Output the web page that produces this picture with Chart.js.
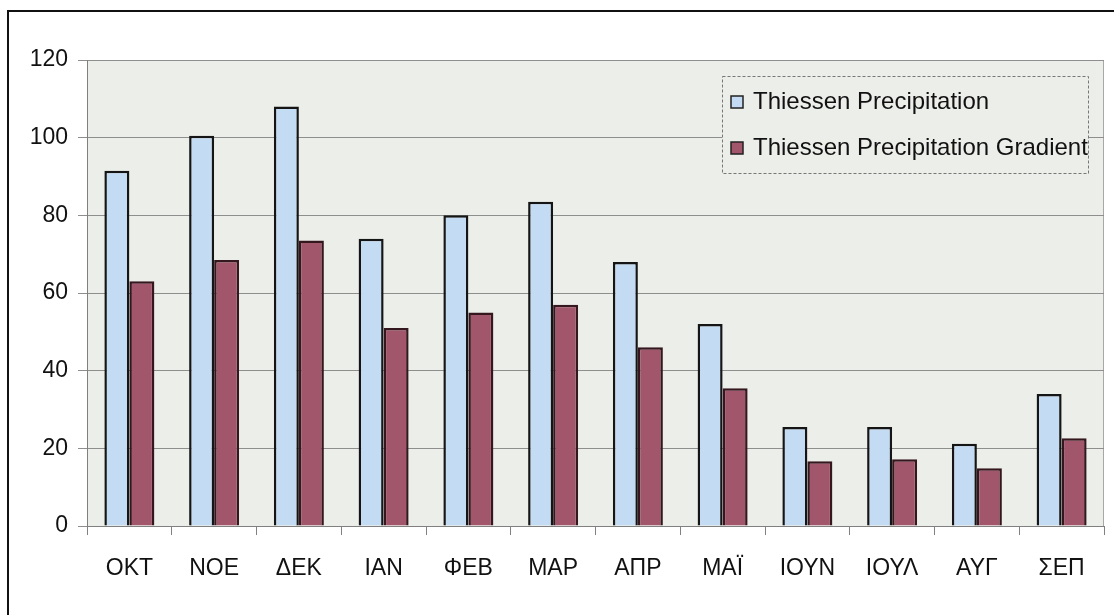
<!DOCTYPE html>
<html lang="el">
<head>
    <meta charset="UTF-8">
    <title>Thiessen Precipitation</title>
    <script src="https://cdn.jsdelivr.net/npm/chart.js"></script>
    <style>
        html, body {
            margin: 0;
            padding: 0;
            background: #ffffff;
            overflow: hidden;
        }
        .frame {
            position: absolute;
            left: 7px;
            top: 10px;
            width: 1200px;
            height: 700px;
            border-left: 2px solid #111;
            border-top: 2px solid #111;
        }
        #chart {
            position: absolute;
            left: 0;
            top: 0;
        }
    </style>
</head>
<body>
    <div class="frame"></div>
    <canvas id="chart" width="1114" height="615"></canvas>

    <script>
        // Μήνες υδρολογικού έτους
        const months = ['OKT', 'NOE', 'ΔΕΚ', 'ΙΑΝ', 'ΦΕΒ', 'ΜΑΡ', 'ΑΠΡ', 'ΜΑΪ', 'ΙΟΥΝ', 'ΙΟΥΛ', 'ΑΥΓ', 'ΣΕΠ'];
        const thiessen = [91.5, 100.5, 108, 74, 80, 83.5, 68, 52, 25.5, 25.5, 21.2, 34];
        const thiessenGradient = [63, 68.5, 73.5, 51, 55, 57, 46, 35.5, 16.7, 17.2, 14.9, 22.6];
        const yTicks = [0, 20, 40, 60, 80, 100, 120];

        const fontFamily = "'Liberation Sans', Arial, sans-serif";
        const tickFont = { family: fontFamily, size: 23 };

        // fond gris de la zone de tracé
        const plotBackground = {
            id: 'plotBackground',
            beforeDraw(chart) {
                const { ctx, chartArea: a } = chart;
                ctx.save();
                ctx.fillStyle = '#eceeea';
                ctx.fillRect(a.left, a.top, a.right - a.left, a.bottom - a.top);
                ctx.strokeStyle = '#a8a8a8';
                ctx.lineWidth = 1;
                ctx.beginPath();
                ctx.moveTo(a.left, a.top + 0.5);
                ctx.lineTo(a.right - 0.5, a.top + 0.5);
                ctx.lineTo(a.right - 0.5, a.bottom);
                ctx.stroke();
                ctx.restore();
            }
        };

        // légende dans la zone de tracé, en haut à droite
        const boxLegend = {
            id: 'boxLegend',
            afterDraw(chart) {
                const { ctx } = chart;
                const x = 722, y = 76, w = 366, h = 97;
                ctx.save();
                ctx.fillStyle = '#eceeea';
                ctx.fillRect(x, y, w, h);
                ctx.setLineDash([3, 2]);
                ctx.strokeStyle = '#777';
                ctx.lineWidth = 1;
                ctx.strokeRect(x + 0.5, y + 0.5, w, h);
                ctx.setLineDash([]);
                ctx.font = '24px ' + fontFamily;
                ctx.textBaseline = 'middle';
                chart.data.datasets.forEach((ds, i) => {
                    const cy = y + 26 + i * 46;
                    ctx.fillStyle = ds.backgroundColor;
                    ctx.fillRect(x + 9, cy - 6, 12, 12);
                    ctx.strokeStyle = '#222';
                    ctx.lineWidth = 1.5;
                    ctx.strokeRect(x + 9, cy - 6, 12, 12);
                    ctx.fillStyle = '#111';
                    ctx.fillText(ds.label, x + 31, cy);
                });
                ctx.restore();
            }
        };

        new Chart(document.getElementById('chart'), {
            type: 'bar',
            data: {
                labels: months,
                datasets: [{
                    label: 'Thiessen Precipitation',
                    data: thiessen,
                    backgroundColor: '#c4dbf4',
                    borderColor: '#151515',
                    borderWidth: 2.5
                }, {
                    label: 'Thiessen Precipitation Gradient',
                    data: thiessenGradient,
                    backgroundColor: '#a1566c',
                    borderColor: '#35181f',
                    borderWidth: 2.5
                }]
            },
            options: {
                responsive: false,
                animation: false,
                devicePixelRatio: 1,
                layout: { padding: { left: 0, top: 60, right: 10, bottom: 0 } },
                categoryPercentage: 0.59,
                barPercentage: 1,
                plugins: {
                    legend: { display: false },
                    tooltip: { enabled: false }
                },
                scales: {
                    x: {
                        offset: true,
                        grid: {
                            offset: true,
                            drawOnChartArea: false,
                            color: '#808080',
                            tickLength: 9
                        },
                        border: { color: '#808080' },
                        ticks: { color: '#111', font: tickFont, padding: 20, maxRotation: 0 },
                        afterFit(s) { s.height = 89; }
                    },
                    y: {
                        min: 0,
                        max: 120,
                        afterBuildTicks(s) { s.ticks = yTicks.map(v => ({ value: v })); },
                        grid: { color: '#8e8e8e', tickLength: 9 },
                        border: { color: '#808080' },
                        ticks: { color: '#111', font: tickFont, padding: 10 },
                        afterFit(s) { s.width = 87; }
                    }
                }
            },
            plugins: [plotBackground, boxLegend]
        });
    </script>
</body>
</html>
